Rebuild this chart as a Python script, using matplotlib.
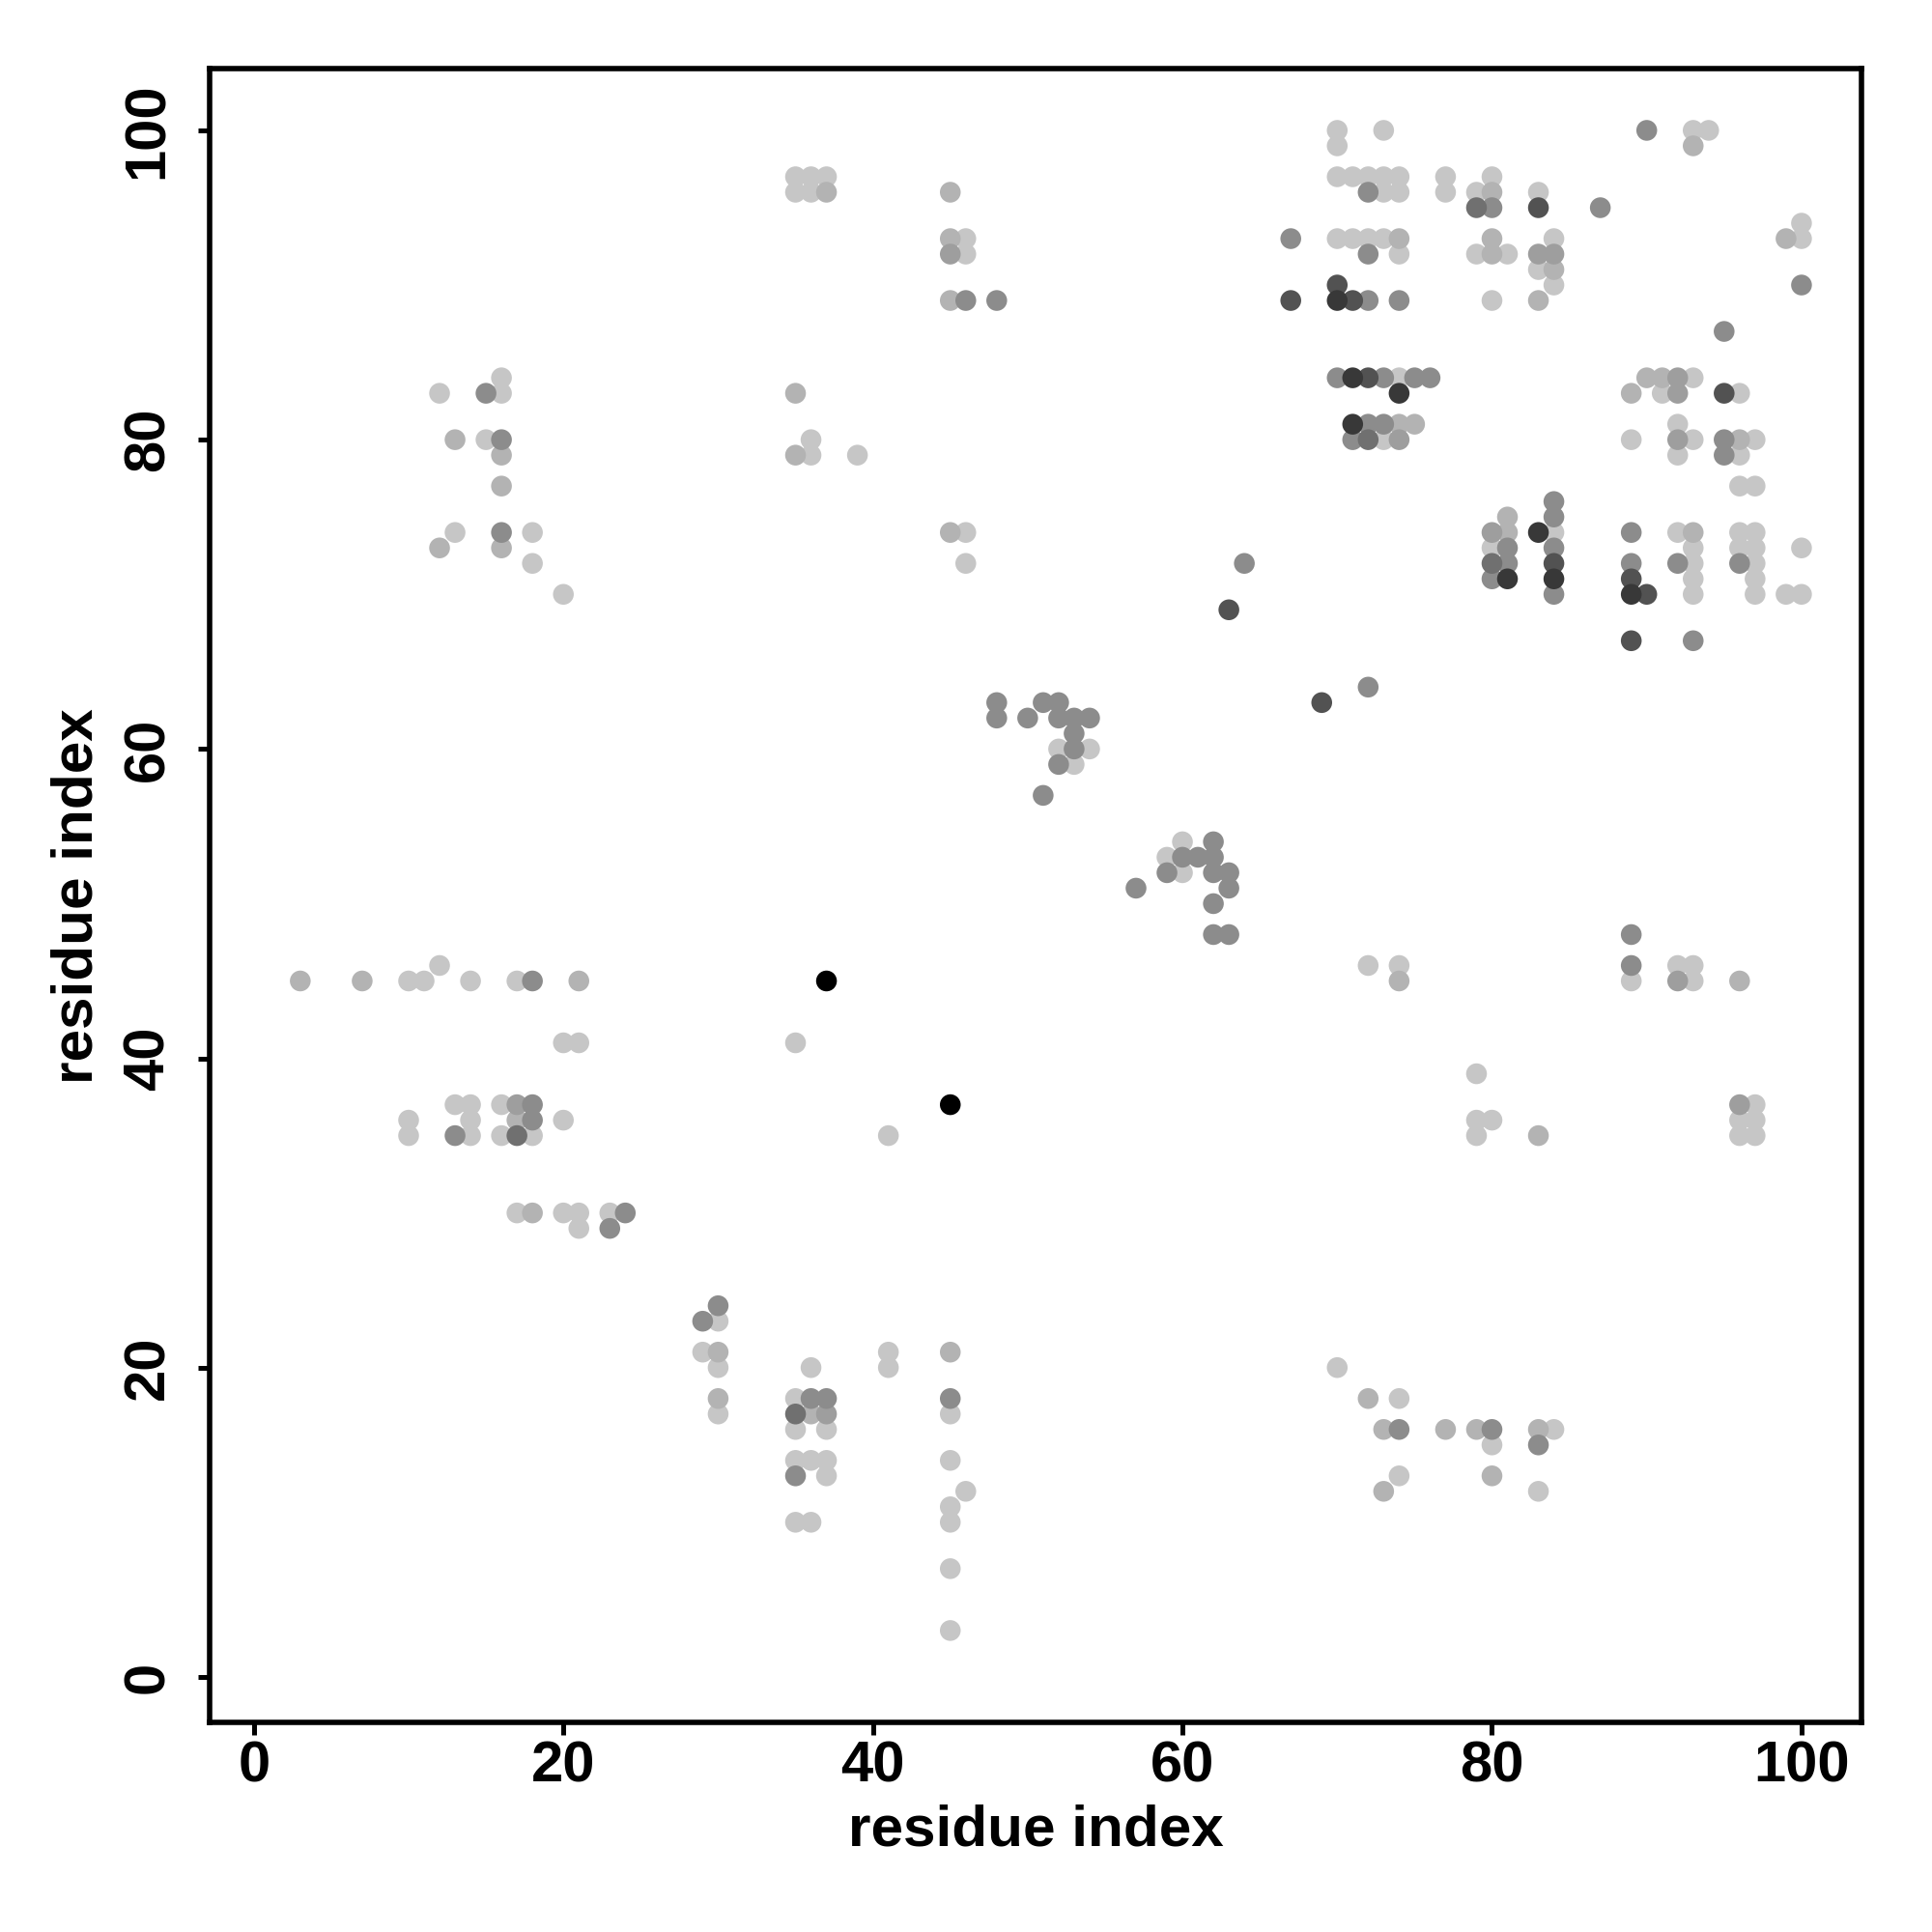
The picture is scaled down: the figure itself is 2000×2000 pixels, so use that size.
import matplotlib
matplotlib.use("Agg")
import matplotlib.pyplot as plt
import numpy as np

plt.rcParams['font.family'] = ['Liberation Sans', 'DejaVu Sans']
plt.rcParams['font.weight'] = 'bold'

# contacts (residue i, residue j) grouped by shade, lightest first
light = [(10,45),(11,45),(12,46),(14,45),(17,45),(20,41),(21,41),(13,37),(14,37),(16,37),
         (10,36),(14,36),(20,36),(10,35),(14,35),(16,35),(18,35),(17,30),(20,30),(21,30),(23,30),(21,29),
         (16,84),(12,83),(16,83),(15,80),(13,74),(18,74),(18,72),(20,70),
         (30,23),(29,21),(41,21),(30,20),(36,20),(41,20),(35,18),(30,17),(45,17),(35,16),(37,16),
         (35,14),(36,14),(37,14),(45,14),(37,13),(46,12),(45,11),(35,10),(36,10),(45,10),(45,7),(45,3),
         (35,97),(36,97),(37,97),(35,96),(36,96),(46,93),(46,92),(36,80),(36,79),(39,79),(46,74),(46,72),
         (35,41),(41,35),
         (52,60),(54,60),(53,59),(60,54),(59,53),(60,52),
         (70,100),(73,100),(70,99),(70,97),(71,97),(72,97),(73,97),(74,97),(77,97),(80,97),
         (73,96),(74,96),(77,96),(79,96),(83,96),(70,93),(71,93),(72,93),(73,93),(84,93),
         (74,92),(79,92),(81,92),(83,91),(84,90),(80,89),(74,84),(73,80),
         (84,74),(80,73),
         (93,100),(94,100),(100,94),(100,93),(93,84),(91,83),(96,83),(92,81),(89,80),(93,80),(97,80),
         (92,79),(96,79),(96,77),(97,77),(92,74),(96,74),(97,74),(93,73),(96,73),(97,73),(100,73),
         (93,72),(97,72),(93,71),(97,71),(93,70),(97,70),(99,70),(100,70),
         (70,20),(74,18),(84,16),(80,15),(74,13),(83,12),
         (72,46),(74,46),(89,45),(92,46),(93,46),(93,45),(79,39),(79,36),(80,36),(79,35),
         (97,37),(96,36),(97,36),(96,35),(97,35)]
light_med = [(3,45),(7,45),(21,45),(17,36),(18,30),(13,80),(16,79),(16,77),(12,73),(16,73),
             (30,21),(45,21),(30,18),(36,17),(37,96),(45,96),(45,93),(45,89),(35,83),(35,79),(45,74),
             (80,96),(74,93),(80,93),(80,92),(84,91),(83,89),(74,81),(75,81),(81,75),(81,74),
             (93,99),(99,93),(90,84),(91,84),(89,83),(96,80),(93,74),
             (72,18),(73,16),(77,16),(79,16),(83,16),(80,13),(73,12),(74,45),(96,45),(83,35)]
med_light = [(17,37),(37,17),(45,92),(83,92),(84,92),(74,80),(80,74),(92,84),(92,83),(92,80),
             (92,45),(96,37)]
medium = [(18,45),(18,37),(18,36),(13,35),(24,30),(23,29),(15,83),(16,80),(16,74),
          (30,24),(29,23),(36,18),(37,18),(45,18),(35,13),(46,89),(48,89),
          (64,72),(48,63),(51,63),(52,63),(48,62),(50,62),(52,62),(53,62),(54,62),(53,61),(53,60),
          (52,59),(51,57),(62,54),(60,53),(61,53),(62,53),(59,52),(62,52),(63,52),(57,51),(63,51),
          (62,50),(62,48),(63,48),(72,64),
          (72,96),(80,95),(67,93),(72,92),(72,89),(74,89),(70,84),(73,84),(75,84),(76,84),
          (72,81),(73,81),(71,80),(84,76),(84,75),(84,73),(84,70),(81,73),(81,72),(80,71),
          (90,100),(87,95),(100,90),(95,87),(95,80),(95,79),(89,74),(89,72),(92,72),(96,72),(93,67),
          (74,16),(80,16),(83,15),(89,48),(89,46)]
med_dark = [(17,35),(35,17),(79,95),(72,80),(80,72)]
dark = [(63,69),(69,63),(83,95),(70,90),(67,89),(71,89),(72,84),(84,72),(95,83),(89,71),(90,70),(89,67)]
darker = [(70,89),(71,84),(74,83),(71,81),(83,74),(84,71),(81,71),(89,70)]
black = [(37,45),(45,37)]

groups = [light, light_med, med_light, medium, med_dark, dark, darker, black]
shades = ['#c6c6c6', '#b3b3b3', '#9e9e9e', '#8c8c8c', '#707070', '#525252', '#383838', '#000000']

fig = plt.figure(figsize=(10, 10), dpi=200)
ax = fig.add_axes([0.1084, 0.1085, 0.8553, 0.8558])

for pts, col in zip(groups, shades):
    a = np.array(pts)
    ax.scatter(a[:, 0], a[:, 1], s=60, c=col, edgecolors='none', zorder=2)

ax.set_xlim(-2.87, 103.9)
ax.set_ylim(-2.94, 103.97)
ax.set_xticks([0, 20, 40, 60, 80, 100])
ax.set_yticks([0, 20, 40, 60, 80, 100])
for s in ax.spines.values():
    s.set_linewidth(2.0)
ax.tick_params(axis='both', length=4.5, width=1.8, labelsize=21.5)
ax.tick_params(axis='x', pad=2.3)
ax.tick_params(axis='y', pad=8.3)
plt.setp(ax.get_yticklabels(), rotation=90, va='center')

ax.set_xlabel('residue index', fontsize=21.7, fontweight='bold')
ax.set_ylabel('residue index', fontsize=21.7, fontweight='bold')
ax.xaxis.set_label_coords(0.5, -0.0495)
ax.yaxis.set_label_coords(-0.064, 0.5)

fig.savefig('out.png', dpi=200)
